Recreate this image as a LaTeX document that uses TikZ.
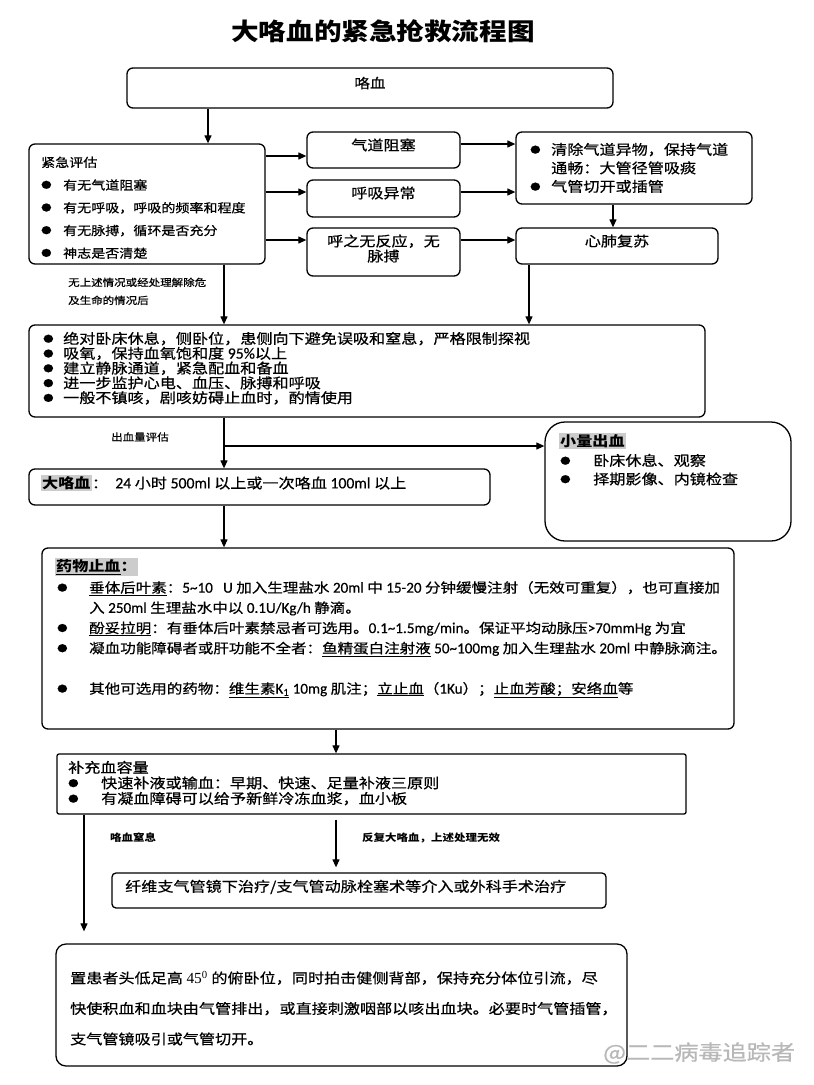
\documentclass[tikz,border=0pt]{standalone}
\usepackage{fontspec}
\setmainfont{Noto Sans CJK SC}[FakeStretch=1.15, UprightFeatures={FakeBold=0.6}]
\newfontfamily\latn{Carlito}[Scale=1.12, FakeBold=0.5]
\newfontfamily\sern{Liberation Serif}[Scale=1.1]
\usetikzlibrary{arrows.meta}
\newcommand\fsz[2]{\fontsize{#1}{#2}\selectfont}
\newcommand\lnum[1]{{\latn #1}}
\newcommand\bl[1]{\makebox[#1][l]{\raisebox{0.12em}{\fontsize{9}{9}\selectfont ●}}}
\newcommand\hlt[1]{{\setlength{\fboxsep}{1.5pt}\colorbox{black!20}{#1}}}
\begin{document}
\begin{tikzpicture}[x=1pt,y=-1pt,
  box/.style={draw=black,line width=1.3pt,rounded corners=6pt,inner sep=0pt},
  arr/.style={line width=1.2pt,-{Triangle[length=8pt,width=7pt]}},
  txt/.style={inner sep=0pt,anchor=north west,align=left},
  lbl/.style={inner sep=0pt,anchor=west},
  ctr/.style={inner sep=0pt,align=center}]
\useasboundingbox (0,0) rectangle (814,1085);
\fill[white] (0,0) rectangle (814,1085);

% title
\node[ctr,font=\fsz{24}{24}\bfseries] (title) at (383,31) {大咯血的紧急抢救流程图};

% boxes
\node[box,minimum width=486pt,minimum height=40pt] (hx) at (370,88) {};
\node[box,minimum width=236pt,minimum height=120pt] (pg) at (147,204) {};
\node[box,minimum width=153pt,minimum height=36pt] (qd) at (383.5,150) {};
\node[box,minimum width=153pt,minimum height=37pt] (hxyc) at (383.5,198.5) {};
\node[box,minimum width=153pt,minimum height=48pt] (hzw) at (383.5,252) {};
\node[box,minimum width=236pt,minimum height=72pt] (qc) at (634,168) {};
\node[box,minimum width=202pt,minimum height=36pt] (xf) at (617,246) {};
\node[box,minimum width=676pt,minimum height=92pt] (big1) at (367,371) {};
\node[box,rounded corners=20pt,minimum width=246pt,minimum height=119pt] (xl) at (668,481.5) {};
\node[box,minimum width=461pt,minimum height=36pt] (dk) at (259.5,487) {};
\node[box,minimum width=692pt,minimum height=181pt] (yw) at (388,638.5) {};
\node[box,rounded corners=2pt,minimum width=629pt,minimum height=60pt] (bc) at (371.5,784) {};
\node[box,rounded corners=4pt,minimum width=494pt,minimum height=35pt] (xw) at (359,890.5) {};
\node[box,rounded corners=10pt,minimum width=571pt,minimum height=122pt] (bot) at (341.5,1005) {};

% guide coordinates
\coordinate (cA) at (208,0);
\coordinate (cB) at (224,0);
\coordinate (cC) at (529,0);
\coordinate (cD) at (613,0);
\coordinate (cE) at (336,0);
\coordinate (cF) at (84,0);
\coordinate (r0) at (0,144);
\coordinate (r1) at (0,156);
\coordinate (r2) at (0,192);
\coordinate (r3) at (0,240);
\coordinate (r4) at (0,446);

% connectors
\draw[arr] (hx.south -| cA) -- (pg.north -| cA);
\draw[arr] (pg.east |- r1) -- (qd.west |- r1);
\draw[arr] (pg.east |- r2) -- (hxyc.west |- r2);
\draw[arr] (pg.east |- r3) -- (hzw.west |- r3);
\draw[arr] (qd.east |- r0) -- (qc.west |- r0);
\draw[arr] (hxyc.east |- r2) -- (qc.west |- r2);
\draw[arr] (hzw.east |- r3) -- (xf.west |- r3);
\draw[arr] (qc.south -| cD) -- (xf.north -| cD);
\draw[arr] (xf.south -| cC) -- (big1.north -| cC);
\draw[arr] (pg.south -| cB) -- (big1.north -| cB);
\draw[arr] (big1.south -| cB) -- (dk.north -| cB);
\draw[arr] (cB |- r4) -- (xl.west |- r4);
\draw[arr] (dk.south -| cB) -- (yw.north -| cB);
\draw[arr] (yw.south -| cE) -- (bc.north -| cE);
\draw[arr,shorten <=5pt,shorten >=5pt] (bc.south -| cE) -- (xw.north -| cE);
\draw[arr,shorten >=12pt] (bc.south -| cF) -- (bot.north -| cF);

% texts
\node[ctr,font=\fsz{13.5}{15}] (hxt) at (370,83) {咯血};
\node[txt,font=\fsz{12.2}{22.7}] (pgt) at (41,156.5) {紧急评估\\
\bl{22pt}有无气道阻塞\\
\bl{22pt}有无呼吸，呼吸的频率和程度\\
\bl{22pt}有无脉搏，循环是否充分\\
\bl{22pt}神志是否清楚};
\node[ctr,font=\fsz{14}{15}] (qdt) at (383.5,145) {气道阻塞};
\node[ctr,font=\fsz{14}{15}] (hxyct) at (383.5,193) {呼吸异常};
\node[ctr,font=\fsz{14}{15}] (hzwt) at (383.5,248.5) {呼之无反应，无\\脉搏};
\node[txt,font=\fsz{14}{18.5}] (qct) at (530,142.7) {\bl{21pt}清除气道异物，保持气道\\
\hspace*{21pt}通畅：大管径管吸痰\\
\bl{21pt}气管切开或插管};
\node[ctr,font=\fsz{14}{15}] (xft) at (617,241) {心肺复苏};
\node[txt,font=\fsz{10}{18}] (lab1) at (68,277.5) {无上述情况或经处理解除危\\及生命的情况后};

\node[txt,font=\fsz{14}{14.8}] (big1t) at (43,331.7) {\bl{20pt}绝对卧床休息，侧卧位，患侧向下避免误吸和窒息，严格限制探视\\
\bl{20pt}吸氧，保持血氧饱和度 \lnum{95\%}以上\\
\bl{20pt}建立静脉通道，紧急配血和备血\\
\bl{20pt}进一步监护心电、血压、脉搏和呼吸\\
\bl{20pt}一般不镇咳，剧咳妨碍止血时，酌情使用};

\node[lbl,font=\fsz{10}{12}] (lab2) at (111,437) {出血量评估};
\node[lbl,font=\fsz{14}{16}] (xlh) at (558.5,441) {\hlt{\textbf{小量出血}}};
\node[txt,font=\fsz{14}{18.5}] (xlt) at (560,453.7) {\bl{33pt}卧床休息、观察\\
\bl{33pt}择期影像、内镜检查};
\node[lbl,font=\fsz{14}{16}] (dkt) at (40.5,483) {\hlt{\textbf{大咯血}}：\ \ \lnum{24} 小时 \lnum{500ml} 以上或一次咯血 \lnum{100ml} 以上};

\node[lbl,font=\fsz{14}{16}] (ywh) at (54.5,567) {\hlt{\textbf{\underline{药物止血}：}}};
\node[txt,font=\fsz{13.5}{20.2}] (ywt) at (57,580.9) {\bl{32pt}\underline{垂体后叶素}：\lnum{5\textasciitilde10\ \ \ U} 加入生理盐水 \lnum{20ml} 中 \lnum{15-20} 分钟缓慢注射（无效可重复），也可直接加\\
\hspace*{32pt}入 \lnum{250ml} 生理盐水中以 \lnum{0.1U/Kg/h} 静滴。\\
\bl{32pt}\underline{酚妥拉明}：有垂体后叶素禁忌者可选用。\lnum{0.1\textasciitilde1.5mg/min}。保证平均动脉压\lnum{>70mmHg} 为宜\\
\bl{32pt}凝血功能障碍者或肝功能不全者：\underline{鱼精蛋白注射液} \lnum{50\textasciitilde100mg} 加入生理盐水 \lnum{20ml} 中静脉滴注。\\[20.2pt]
\bl{32pt}其他可选用的药物：\underline{维生素\lnum{K\textsubscript{1}}} \lnum{10mg} 肌注；\underline{立止血}（\lnum{1Ku}）；\underline{止血芳酸；安络血}等};

\node[txt,font=\fsz{14}{15.5}] (bct) at (68,760.7) {补充血容量\\
\bl{33pt}快速补液或输血：早期、快速、足量补液三原则\\
\bl{33pt}有凝血障碍可以给予新鲜冷冻血浆，血小板};

\node[lbl,font=\fsz{10}{12}\bfseries] (lab3) at (110,838) {咯血窒息};
\node[lbl,font=\fsz{10}{12}\bfseries] (lab4) at (362,838) {反复大咯血，上述处理无效};
\node[lbl,font=\fsz{14}{16}] (xwt) at (125,887) {纤维支气管镜下治疗/支气管动脉栓塞术等介入或外科手术治疗};

\node[txt,font=\fsz{14}{30.5}] (bott) at (70,970.7) {置患者头低足高 {\sern 45\textsuperscript{0}} 的俯卧位，同时拍击健侧背部，保持充分体位引流，尽\\
快使积血和血块由气管排出，或直接刺激咽部以咳出血块。必要时气管插管，\\
支气管镜吸引或气管切开。};

\node[lbl,font=\fsz{21}{21},text=black!28] (wm) at (603,1053) {@二二病毒追踪者};
\end{tikzpicture}
\end{document}
